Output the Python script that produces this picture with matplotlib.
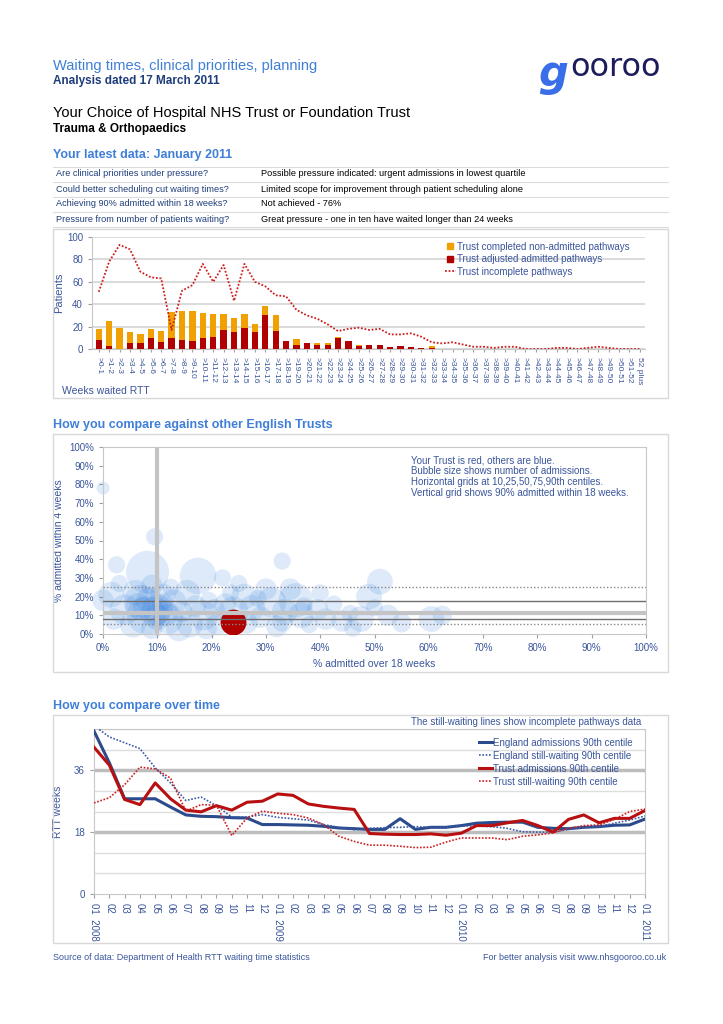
import matplotlib
matplotlib.use("Agg")
import matplotlib.pyplot as plt
from matplotlib.lines import Line2D
from matplotlib.patches import Rectangle
from matplotlib.ticker import FuncFormatter

plt.rcParams['font.family'] = ['Liberation Sans', 'DejaVu Sans']

W, H = 723, 1024
BLUE_TXT = '#3a559a'
TITLE_BLUE = '#3f7fd8'
NAVY = '#1f3d7a'
GRID = '#d4d4d4'

# --- latest data table
questions = ["Are clinical priorities under pressure?",
             "Could better scheduling cut waiting times?",
             "Achieving 90% admitted within 18 weeks?",
             "Pressure from number of patients waiting?"]
answers = ["Possible pressure indicated: urgent admissions in lowest quartile",
           "Limited scope for improvement through patient scheduling alone",
           "Not achieved - 76%",
           "Great pressure - one in ten have waited longer than 24 weeks"]

# --- weeks waited histogram
week_labels = [">%d-%d" % (i, i + 1) for i in range(52)] + ["52 plus"]
admitted = [8, 3, 0, 5, 5, 10, 6, 10, 8, 7, 10, 11, 17, 15, 19, 15, 30, 16, 7, 4,
            5, 4, 4, 10, 7, 3, 4, 4, 2, 3, 2, 1, 1] + [0] * 20
non_admitted = [10, 22, 19, 10, 8, 8, 10, 23, 26, 27, 22, 20, 14, 13, 12, 7, 8, 14, 0, 5,
                0, 1, 1, 1, 0, 1, 0, 0, 0, 0, 0, 0, 2] + [0] * 20
incomplete = [51, 78, 93, 89, 69, 64, 63, 17, 52, 57, 76, 60, 75, 43, 76, 60, 56, 48, 47, 35,
              30, 27, 22, 16, 18, 19, 17, 18, 13, 13, 14, 11, 6, 5, 6, 4, 2, 2, 1, 2,
              2, 0, 0, 0, 1, 1, 0, 1, 2, 1, 0, 0, 0]

# --- bubble chart: other trusts (% over 18 wks, % within 4 wks, admissions)
others_over18 = [0, 9.5, 2.5, 8.2, 17.5, 22, 33, 51, 0, 1.5, 4, 6, 7, 8, 9, 10, 11, 12, 13, 14.5,
                 15.5, 16, 17, 18.5, 19.5, 20.5, 21, 22.5, 24, 26, 26.5, 27.5, 29, 30, 31, 32, 33.5, 34.5, 35.5, 36.5,
                 38, 39.5, 41, 42.5, 44, 45.5, 47.5, 49, 50, 52.5, 55, 60.5, 62.5, 2, 5.5, 9, 11, 7.5, 10, 12.5,
                 3, 23.5, 14, 19, 28.5, 37, 46, 33, 40, 25, 6.5, 9.5, 8.5, 11.5]
others_within4 = [78, 52, 37, 33, 31, 30, 39, 28, 18, 21, 13, 22, 17, 10, 26, 13, 20, 8, 17, 12,
                  22, 5, 15, 10, 18, 13, 5, 16, 12, 20, 6, 14, 9, 24, 17, 4, 12, 24, 18, 10,
                  5, 13, 8, 16, 7, 11, 8, 20, 14, 10, 6, 8, 10, 8, 5, 3, 16, 14, 9, 25,
                  27, 22, 3, 3, 19, 15, 3, 7, 22, 27, 15, 12, 18, 11]
others_adm = [144, 256, 256, 1600, 1156, 256, 256, 576, 400, 576, 784, 576, 1024, 1296, 400, 784, 576, 784, 576, 400,
              576, 576, 400, 784, 256, 400, 400, 400, 784, 576, 400, 576, 400, 400, 784, 400, 576, 400, 1024, 576,
              256, 400, 400, 256, 400, 256, 576, 576, 256, 400, 324, 576, 324, 400, 576, 400, 400, 400, 576, 256,
              256, 256, 576, 400, 256, 256, 256, 400, 256, 256, 576, 784, 576, 576]
trust_over18, trust_within4, trust_adm = [24], [6.5], [576]
centiles_dotted = [25.2, 5.1]
centiles_solid = [17.5, 7.8]
centile_median = 11.3

# --- over time (monthly, Jan 2008 - Jan 2011)
months = ["01  2008", "02", "03", "04", "05", "06", "07", "08", "09", "10", "11", "12",
          "01  2009", "02", "03", "04", "05", "06", "07", "08", "09", "10", "11", "12",
          "01  2010", "02", "03", "04", "05", "06", "07", "08", "09", "10", "11", "12",
          "01  2011"]
eng_adm = [47.4, 38.2, 27.7, 27.7, 27.7, 25.3, 23.0, 22.6, 22.5, 22.2, 22.1, 20.2,
           20.2, 20.1, 20.0, 19.7, 19.2, 19.0, 18.8, 18.8, 21.9, 18.8, 19.4, 19.4,
           19.9, 20.6, 20.8, 20.9, 20.9, 19.4, 19.1, 19.0, 19.4, 19.6, 20.0, 20.1, 21.8]
eng_wait = [49.0, 45.7, 44.0, 42.3, 36.7, 32.3, 27.2, 28.2, 25.7, 22.4, 22.4, 23.1,
            22.3, 21.9, 21.5, 20.2, 19.4, 18.7, 19.1, 19.3, 19.4, 19.6, 19.4, 19.4,
            19.8, 19.8, 19.6, 19.1, 18.1, 18.0, 18.0, 18.8, 19.4, 19.6, 20.6, 21.5, 22.7]
trust_adm_t = [42.7, 37.5, 27.5, 26.0, 32.3, 27.7, 24.4, 23.9, 25.7, 24.4, 26.7, 27.0,
               29.1, 28.7, 26.2, 25.5, 25.0, 24.6, 17.6, 17.4, 17.3, 17.3, 17.5, 17.1,
               17.7, 19.9, 19.9, 20.7, 21.4, 19.9, 18.0, 21.7, 23.0, 20.7, 22.0, 22.0, 24.3]
trust_wait = [26.5, 28.0, 31.8, 36.9, 36.4, 33.7, 24.1, 26.0, 25.8, 17.0, 22.1, 24.1,
              23.5, 23.1, 22.1, 20.2, 16.8, 15.3, 14.2, 14.2, 13.9, 13.5, 13.6, 15.1,
              16.3, 16.3, 16.3, 15.8, 16.8, 17.2, 17.8, 19.1, 19.9, 20.1, 21.7, 24.0, 24.7]

fig = plt.figure(figsize=(7.23, 10.24), dpi=100)


def ax_px(x0, y0, x1, y1):
    return fig.add_axes([x0 / W, 1 - y1 / H, (x1 - x0) / W, (y1 - y0) / H])


def txt(x, y, s, **kw):
    kw.setdefault('va', 'center')
    return fig.text(x / W, 1 - y / H, s, **kw)


def box(x0, y0, x1, y1):
    fig.add_artist(Rectangle((x0 / W, 1 - y1 / H), (x1 - x0) / W, (y1 - y0) / H,
                             transform=fig.transFigure, fill=False, ec='#d8d8d8', lw=1))


def hline(x0, x1, y, c='#dcdcdc'):
    fig.add_artist(Line2D([x0 / W, x1 / W], [1 - y / H, 1 - y / H], transform=fig.transFigure, color=c, lw=0.8))


def style_ax(ax):
    for s in ax.spines.values():
        s.set_color('#c8c8c8')
    ax.tick_params(colors='#a0a0a0', labelcolor=BLUE_TXT, labelsize=7, length=3)


# header
txt(53, 66, "Waiting times, clinical priorities, planning", color=TITLE_BLUE, fontsize=10.5)
txt(53, 81, "Analysis dated 17 March 2011", color=NAVY, fontsize=8.5, fontweight='bold')
txt(53, 113, "Your Choice of Hospital NHS Trust or Foundation Trust", color='black', fontsize=10.5)
txt(53, 129, "Trauma & Orthopaedics", color='black', fontsize=8.5, fontweight='bold')
txt(538, 74, "g", color='#3a6ee8', fontsize=30, fontstyle='italic', fontweight='bold', family='DejaVu Sans')
txt(570, 68, "ooroo", color='#1c1c5c', fontsize=23, family='DejaVu Sans')

# latest data table
txt(53, 155, "Your latest data: January 2011", color=TITLE_BLUE, fontsize=9, fontweight='bold')
row_y = [174, 189, 204, 219]
hline(53, 668, 166.5)
for q, a, y in zip(questions, answers, row_y):
    txt(56, y, q, color=NAVY, fontsize=6.6)
    txt(261, y, a, color='black', fontsize=6.6)
    hline(53, 668, y + 7.5)

# histogram
box(53, 229, 668, 398)
ax = ax_px(92, 237, 645, 349)
xs = list(range(len(week_labels)))
ax.bar(xs, admitted, width=0.6, color='#b00000', zorder=3)
ax.bar(xs, non_admitted, width=0.6, bottom=admitted, color='#f0a000', zorder=3)
ax.plot(xs, incomplete, color='#cc1f1f', lw=1.3, ls=(0, (1, 1)), zorder=4)
ax.set_xlim(-0.65, len(xs) - 0.5)
ax.set_ylim(0, 100)
ax.set_yticks(range(0, 101, 20))
ax.set_xticks(xs)
ax.set_xticklabels(week_labels, rotation=-90, fontsize=6)
ax.yaxis.grid(True, color=GRID, lw=1.2, zorder=0)
style_ax(ax)
ax.tick_params(axis='x', labelsize=6, length=2)
ax.spines['top'].set_visible(False)
ax.spines['right'].set_visible(False)
ax.set_ylabel("Patients", color=BLUE_TXT, fontsize=8, labelpad=2)
txt(62, 391, "Weeks waited RTT", color=BLUE_TXT, fontsize=7.5)
h1 = Line2D([], [], marker='s', ls='none', color='#f0a000', markersize=5)
h2 = Line2D([], [], marker='s', ls='none', color='#b00000', markersize=5)
h3 = Line2D([], [], color='#cc1f1f', lw=1.3, ls=(0, (1, 1)))
fig.legend([h1, h2, h3], ["Trust completed non-admitted pathways", "Trust adjusted admitted pathways",
                          "Trust incomplete pathways"],
           loc='upper left', bbox_to_anchor=(440 / W, 1 - 237 / H), frameon=False, fontsize=7,
           labelcolor=BLUE_TXT, handlelength=1.1, handletextpad=0.2, borderpad=0, labelspacing=0.25)

# bubble chart
txt(53, 425, "How you compare against other English Trusts", color=TITLE_BLUE, fontsize=9, fontweight='bold')
box(53, 434, 668, 672)
bx = ax_px(103, 447, 646, 634)
bx.scatter(others_over18, others_within4, s=[a * 0.6 for a in others_adm], color='#2878dc',
           alpha=0.15, lw=0, zorder=2, clip_on=False)
bx.scatter(trust_over18, trust_within4, s=[a * 0.6 for a in trust_adm], color='#b00000', lw=0, zorder=3)
for c in centiles_dotted:
    bx.axhline(c, color='#888888', lw=1, ls=(0, (1, 1.5)), zorder=4)
for c in centiles_solid:
    bx.axhline(c, color='#6e6e6e', lw=1, zorder=4)
bx.axhline(centile_median, color='#c4c4c4', lw=3, zorder=4)
bx.axvline(10, color='#c4c4c4', lw=3, zorder=4)
bx.set_xlim(0, 100)
bx.set_ylim(0, 100)
bx.set_xticks(range(0, 101, 10))
bx.set_yticks(range(0, 101, 10))
pct = FuncFormatter(lambda v, p: "%d%%" % v)
bx.xaxis.set_major_formatter(pct)
bx.yaxis.set_major_formatter(pct)
style_ax(bx)
bx.set_xlabel("% admitted over 18 weeks", color=BLUE_TXT, fontsize=7.5, labelpad=4)
bx.set_ylabel("% admitted within 4 weeks", color=BLUE_TXT, fontsize=7.5, labelpad=4)
bx.text(0.567, 0.955, "Your Trust is red, others are blue.\nBubble size shows number of admissions.\n"
        "Horizontal grids at 10,25,50,75,90th centiles.\nVertical grid shows 90% admitted within 18 weeks.",
        transform=bx.transAxes, ha='left', va='top', color=BLUE_TXT, fontsize=7, linespacing=1.1)

# over time
txt(53, 706, "How you compare over time", color=TITLE_BLUE, fontsize=9, fontweight='bold')
box(53, 715, 668, 943)
lx = ax_px(94, 729, 645, 894)
t = list(range(len(months)))
for g in [6, 12, 24, 30, 42, 48]:
    lx.axhline(g, color='#dedede', lw=1, zorder=0)
for g in [18, 36]:
    lx.axhline(g, color='#bdbdbd', lw=2.5, zorder=0)
lx.plot(t, eng_adm, color='#2b4b8c', lw=2.2, label="England admissions 90th centile", zorder=3)
lx.plot(t, eng_wait, color='#3a5aa8', lw=1.2, ls=(0, (1, 1)), label="England still-waiting 90th centile", zorder=3)
lx.plot(t, trust_adm_t, color='#b81010', lw=2.2, label="Trust admissions 90th centile", zorder=3)
lx.plot(t, trust_wait, color='#cc1f1f', lw=1.2, ls=(0, (1, 1)), label="Trust still-waiting 90th centile", zorder=3)
lx.set_xlim(0, len(months) - 1)
lx.set_ylim(0, 48)
lx.set_yticks([0, 18, 36])
lx.set_xticks(t)
lx.set_xticklabels(months, rotation=-90, fontsize=7)
style_ax(lx)
lx.set_ylabel("RTT weeks", color=BLUE_TXT, fontsize=7.5, labelpad=8)
lx.legend(loc='upper left', bbox_to_anchor=(474 / W, 1 - 733 / H), bbox_transform=fig.transFigure,
          frameon=False, fontsize=7, labelcolor=BLUE_TXT, handlelength=1.3, handletextpad=0.2,
          borderpad=0, labelspacing=0.3)
txt(526, 722, "The still-waiting lines show incomplete pathways data", color=BLUE_TXT, fontsize=7, ha='center')

# footer
txt(53, 958, "Source of data: Department of Health RTT waiting time statistics", color=BLUE_TXT, fontsize=6.5)
txt(666, 958, "For better analysis visit www.nhsgooroo.co.uk", color=BLUE_TXT, fontsize=6.5, ha='right')

fig.savefig("out.png", dpi=100)
